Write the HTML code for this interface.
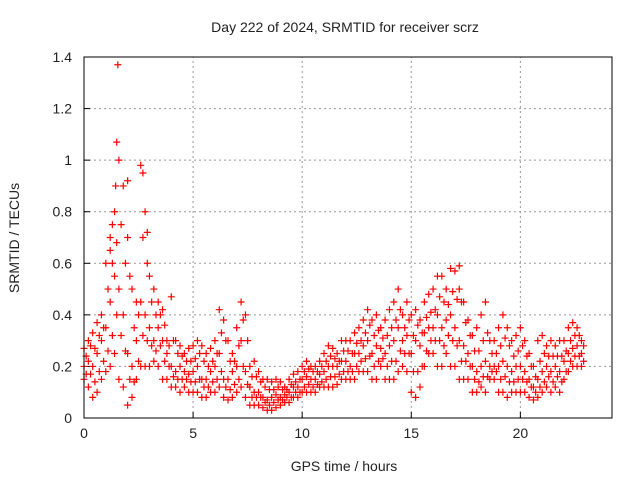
<!DOCTYPE html>
<html><head><meta charset="utf-8"><style>
body{margin:0;background:#fff;}
svg text{font-family:"Liberation Sans",sans-serif;fill:#222;}
</style></head><body>
<svg id="chart" width="640" height="480">
<rect width="640" height="480" fill="#fff"/>
<text x="345" y="32" font-size="14" text-anchor="middle">Day 222 of 2024, SRMTID for receiver scrz</text>
<text x="344" y="471" font-size="14" text-anchor="middle">GPS time / hours</text>
<text transform="translate(19,238) rotate(-90)" font-size="14" text-anchor="middle">SRMTID / TECUs</text>
<g id="grid"></g><g id="ticks"></g><g id="marks"></g>
<rect x="84" y="57" width="528" height="361" fill="none" stroke="#000" stroke-width="1"/>
</svg>
<script>
const xTicks=[0,5,10,15,20];
const yTicks=[0,0.2,0.4,0.6,0.8,1,1.2,1.4];
const yTickLabels=["0","0.2","0.4","0.6","0.8","1","1.2","1.4"];
const timeStep=0.2;
const hiVals=[.27,.3,.33,.37,.4,.6,.7,.8,1.0,.9,.92,.5,.45,.98,.8,.55,.5,.45,.42,.3,.47,.3,.28,.25,.27,.28,.3,.28,.25,.27,.3,.42,.38,.3,.25,.35,.45,.4,.2,.22,.18,.15,.15,.14,.15,.14,.12,.15,.17,.18,.2,.22,.2,.2,.22,.25,.28,.27,.25,.3,.3,.3,.33,.35,.38,.42,.38,.4,.35,.38,.42,.45,.5,.4,.45,.4,.42,.38,.45,.48,.5,.55,.55,.5,.58,.57,.59,.45,.38,.32,.35,.4,.45,.3,.3,.35,.4,.35,.3,.32,.35,.3,.25,.2,.3,.32,.28,.3,.28,.3,.3,.35,.37,.35,.3];
const midVals=[.2,.22,.2,.25,.3,.35,.45,.55,.5,.4,.25,.2,.3,.45,.4,.35,.3,.35,.3,.25,.2,.18,.2,.18,.17,.18,.2,.15,.15,.18,.2,.25,.15,.15,.18,.2,.3,.18,.12,.1,.1,.08,.07,.08,.09,.08,.09,.1,.12,.12,.15,.16,.15,.15,.17,.18,.2,.2,.2,.22,.22,.2,.25,.25,.28,.3,.25,.28,.27,.25,.28,.3,.35,.3,.32,.25,.3,.28,.33,.35,.35,.4,.35,.38,.4,.35,.3,.28,.25,.2,.18,.2,.22,.2,.2,.2,.22,.2,.18,.2,.2,.18,.15,.12,.15,.18,.2,.18,.2,.18,.22,.25,.27,.28,.25];
const loVals=[.15,.12,.08,.1,.15,.18,.2,.25,.15,.12,.05,.08,.15,.2,.2,.2,.22,.2,.15,.15,.12,.12,.1,.12,.1,.1,.1,.08,.08,.1,.1,.12,.08,.07,.08,.1,.12,.08,.05,.05,.05,.04,.03,.03,.04,.05,.06,.06,.08,.08,.1,.1,.1,.1,.12,.12,.12,.12,.13,.15,.15,.15,.15,.18,.18,.18,.15,.15,.2,.15,.15,.15,.18,.2,.18,.1,.08,.12,.2,.25,.25,.2,.2,.25,.2,.2,.15,.15,.15,.1,.1,.12,.1,.15,.15,.1,.1,.08,.1,.1,.1,.1,.08,.07,.08,.1,.12,.1,.12,.1,.15,.18,.2,.2,.2];
const q3Vals=[.24,.28,.27,.32,.35,.5,.6,.68,.75,.6,.55,.35,.4,.7,.6,.45,.4,.4,.36,.28,.3,.25,.24,.22,.22,.23,.25,.22,.2,.22,.25,.33,.3,.22,.22,.28,.38,.3,.16,.16,.14,.12,.11,.11,.12,.11,.11,.13,.14,.15,.18,.19,.18,.18,.2,.22,.24,.23,.22,.26,.26,.25,.29,.3,.33,.36,.32,.34,.31,.32,.35,.38,.42,.35,.38,.32,.36,.33,.39,.41,.42,.47,.45,.44,.49,.46,.45,.37,.32,.26,.26,.3,.33,.25,.25,.28,.31,.28,.24,.26,.28,.24,.2,.16,.22,.25,.24,.24,.24,.24,.26,.3,.32,.32,.28];
const q1Vals=[.17,.17,.14,.18,.22,.26,.32,.4,.32,.26,.15,.14,.22,.32,.3,.28,.26,.28,.22,.2,.16,.15,.15,.15,.14,.14,.15,.12,.12,.14,.15,.18,.12,.11,.13,.15,.2,.13,.08,.08,.08,.06,.05,.06,.07,.07,.08,.08,.1,.1,.12,.13,.12,.13,.14,.15,.16,.16,.17,.18,.18,.18,.2,.22,.23,.24,.2,.22,.23,.2,.22,.22,.26,.25,.25,.18,.18,.2,.26,.3,.3,.3,.28,.32,.3,.28,.22,.22,.2,.15,.14,.16,.16,.18,.18,.15,.16,.14,.14,.15,.15,.14,.12,.1,.12,.14,.16,.14,.16,.14,.18,.22,.24,.24,.22];
const outlierTimes=[1.55,1.5,1.45,2.7,1.2,2.9,17.2,1.3,2.0];
const outlierVals=[1.37,1.07,0.9,0.95,0.65,0.72,0.5,0.75,0.7];
const X0=84,X1=612,Y0=418,Y1=57,XMAX=24.2,YMAX=1.4;
const sx=v=>X0+v/XMAX*(X1-X0);
const sy=v=>Y0-v/YMAX*(Y0-Y1);
const NS="http://www.w3.org/2000/svg";
const grid=document.getElementById('grid'),ticks=document.getElementById('ticks'),marks=document.getElementById('marks');
function mk(tag,attrs,parent){const e=document.createElementNS(NS,tag);for(const k in attrs)e.setAttribute(k,attrs[k]);parent.appendChild(e);return e;}
xTicks.forEach(t=>{
  if(t>0){const g=mk('line',{x1:sx(t),x2:sx(t),y1:Y0,y2:Y1,stroke:'#999','stroke-dasharray':'2,3'},grid);
  
  }
  const tk=mk('line',{x1:sx(t),x2:sx(t),y1:Y0,y2:Y0-6,stroke:'#000'},ticks);
  
  
  const l=mk('text',{x:sx(t),y:Y0+20,'font-size':14,'text-anchor':'middle'},ticks);l.textContent=String(t);
  
  
});
yTicks.forEach((t,i)=>{
  if(t>0&&t<YMAX){const g=mk('line',{x1:X0,x2:X1,y1:sy(t),y2:sy(t),stroke:'#999','stroke-dasharray':'2,3'},grid);
  
  }
  const tk=mk('line',{x1:X0,x2:X0+6,y1:sy(t),y2:sy(t),stroke:'#000'},ticks);
  
  
  const l=mk('text',{x:X0-12,y:sy(t)+5,'font-size':14,'text-anchor':'end'},ticks);l.textContent=yTickLabels[i];
  
  
});
function cross(t,v){
  const x=sx(t),y=sy(v);
  const p=mk('path',{d:`M${x-3.5},${y}h7M${x},${y-3.5}v7`,stroke:'#f00','stroke-width':1.2,fill:'none'},marks);
  
  
}
[hiVals,midVals,loVals].forEach(arr=>arr.forEach((v,i)=>cross(i*timeStep,v)));
[q3Vals,q1Vals].forEach(arr=>arr.forEach((v,i)=>cross(i*timeStep+timeStep/2,v)));
outlierTimes.forEach((t,i)=>cross(t,outlierVals[i]));
</script>
</body></html>
